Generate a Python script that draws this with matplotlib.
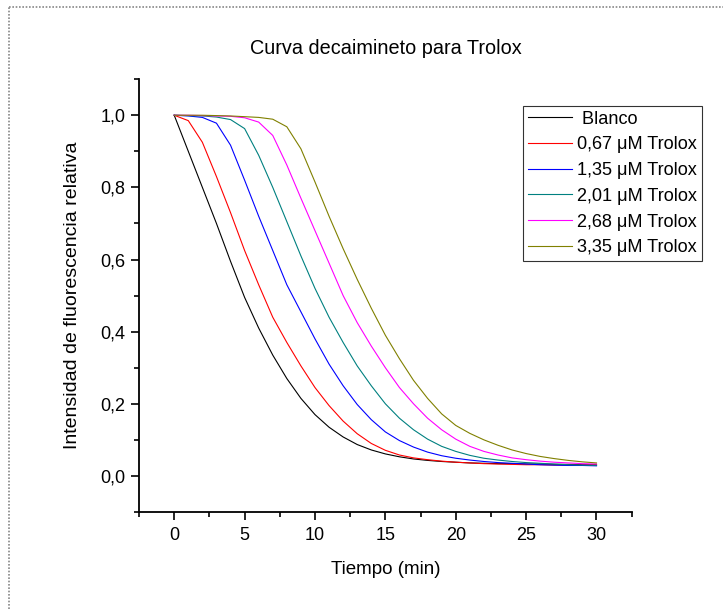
import matplotlib
matplotlib.use("Agg")
import matplotlib.pyplot as plt
from matplotlib.lines import Line2D
from matplotlib.ticker import MultipleLocator, FuncFormatter
import numpy as np

plt.rcParams['font.family'] = ['Liberation Sans', 'DejaVu Sans']

# tiempo en minutos (lecturas cada minuto)
tiempo = np.arange(0, 31)

blanco = [1.0, 0.90, 0.80, 0.70, 0.595, 0.495, 0.41, 0.335, 0.27, 0.215,
          0.17, 0.135, 0.108, 0.087, 0.072, 0.061, 0.053, 0.047, 0.043, 0.040,
          0.038, 0.036, 0.035, 0.034, 0.034, 0.033, 0.033, 0.032, 0.032, 0.031, 0.031]
trolox_067 = [1.0, 0.985, 0.925, 0.83, 0.73, 0.625, 0.53, 0.44, 0.37, 0.305,
              0.245, 0.195, 0.152, 0.117, 0.090, 0.071, 0.058, 0.050, 0.045, 0.041,
              0.038, 0.036, 0.034, 0.033, 0.032, 0.031, 0.031, 0.030, 0.030, 0.030, 0.030]
trolox_135 = [1.0, 0.998, 0.994, 0.978, 0.917, 0.82, 0.72, 0.625, 0.53, 0.455,
              0.38, 0.31, 0.25, 0.198, 0.156, 0.122, 0.098, 0.080, 0.066, 0.056,
              0.049, 0.044, 0.040, 0.037, 0.035, 0.033, 0.031, 0.030, 0.029, 0.029, 0.028]
trolox_201 = [1.0, 0.999, 0.998, 0.995, 0.988, 0.963, 0.889, 0.80, 0.705, 0.61,
              0.52, 0.44, 0.37, 0.305, 0.25, 0.20, 0.16, 0.128, 0.102, 0.082,
              0.068, 0.057, 0.049, 0.044, 0.040, 0.037, 0.035, 0.033, 0.031, 0.030, 0.029]
trolox_268 = [1.0, 1.0, 0.999, 0.998, 0.997, 0.993, 0.981, 0.944, 0.862, 0.77,
              0.68, 0.59, 0.50, 0.425, 0.36, 0.30, 0.245, 0.20, 0.16, 0.128,
              0.102, 0.082, 0.068, 0.058, 0.050, 0.045, 0.041, 0.038, 0.036, 0.034, 0.033]
trolox_335 = [1.0, 1.0, 1.0, 0.999, 0.998, 0.996, 0.994, 0.989, 0.968, 0.907,
              0.815, 0.72, 0.63, 0.545, 0.465, 0.39, 0.325, 0.265, 0.215, 0.172,
              0.14, 0.118, 0.10, 0.085, 0.072, 0.062, 0.054, 0.048, 0.043, 0.039, 0.036]

series = [blanco, trolox_067, trolox_135, trolox_201, trolox_268, trolox_335]
etiquetas = [' Blanco', '0,67 μM Trolox', '1,35 μM Trolox', '2,01 μM Trolox',
             '2,68 μM Trolox', '3,35 μM Trolox']
colores = ['#000000', '#ff0000', '#0000ff', '#008080', '#ff00ff', '#808000']

fig = plt.figure(figsize=(7.23, 6.09), dpi=100)
ax = fig.add_axes([0.1923, 0.1593, 0.6814, 0.7107])

for y, lab, c in zip(series, etiquetas, colores):
    ax.plot(tiempo, y, color=c, lw=0.8, label=lab)

ax.set_xlim(-2.5, 32.5)
ax.set_ylim(-0.1, 1.1)
ax.xaxis.set_major_locator(MultipleLocator(5))
ax.xaxis.set_minor_locator(MultipleLocator(2.5))
ax.yaxis.set_major_locator(MultipleLocator(0.2))
ax.yaxis.set_minor_locator(MultipleLocator(0.1))
ax.yaxis.set_major_formatter(FuncFormatter(lambda v, p: ('%.1f' % v).replace('.', ',').replace('-0,0', '0,0')))

ax.spines['top'].set_visible(False)
ax.spines['right'].set_visible(False)
for s in ['left', 'bottom']:
    ax.spines[s].set_linewidth(1.3)
ax.tick_params(which='major', direction='out', length=5.8, width=1.2, labelsize=13)
ax.tick_params(which='minor', direction='out', length=3.6, width=1.2)
ax.tick_params(axis='y', pad=4)
ax.tick_params(axis='x', pad=5)

ax.set_xlabel('Tiempo (min)', fontsize=13.5, labelpad=12)
ax.set_ylabel('Intensidad de fluorescencia relativa', fontsize=14, labelpad=14)
fig.text(0.534, 0.921, 'Curva decaimineto para Trolox', ha='center', va='center', fontsize=14.3)

leg = ax.legend(loc='upper left', bbox_to_anchor=(522.7 / 723, 1 - 105.7 / 609),
                bbox_transform=fig.transFigure, fontsize=13.1, frameon=True,
                fancybox=False, handlelength=2.45, handletextpad=0.28,
                labelspacing=0.48, borderpad=0.27, borderaxespad=0)
leg.get_frame().set_edgecolor('black')
leg.get_frame().set_linewidth(0.8)

# borde punteado de la figura
fig.add_artist(Line2D([8.5 / 723, 8.5 / 723], [0, 1 - 6.5 / 609], transform=fig.transFigure,
                      color='#888888', lw=1.2, ls=(0, (1, 1))))
fig.add_artist(Line2D([8.5 / 723, 1], [1 - 6.5 / 609, 1 - 6.5 / 609], transform=fig.transFigure,
                      color='#888888', lw=1.2, ls=(0, (1, 1))))

fig.savefig('out.png', dpi=100)
